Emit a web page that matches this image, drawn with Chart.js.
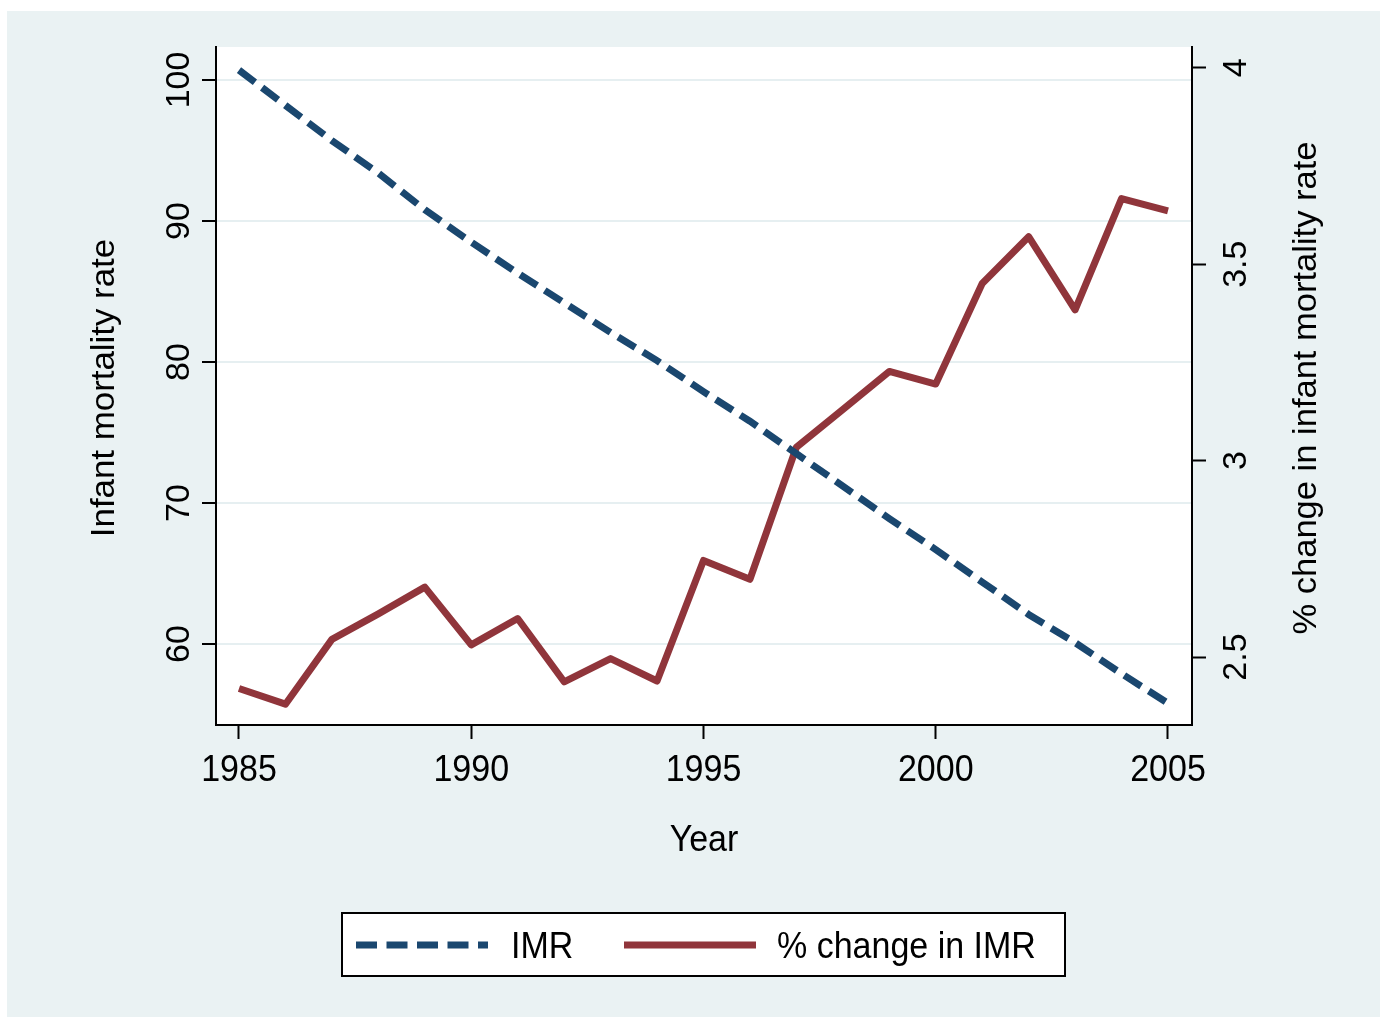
<!DOCTYPE html>
<html>
<head>
<meta charset="utf-8">
<script src="https://cdn.jsdelivr.net/npm/chart.js@4.4.1/dist/chart.umd.min.js"></script>
<style>
  html, body { margin: 0; padding: 0; background: #fff; }
  #wrap { position: absolute; left: 0; top: 0; width: 1380px; height: 1019px; }
</style>
</head>
<body>
<div id="wrap"><canvas id="myChart" width="1380" height="1019"></canvas></div>
<script>
const years = [1985, 1986, 1987, 1988, 1989, 1990, 1991, 1992, 1993, 1994, 1995,
  1996, 1997, 1998, 1999, 2000, 2001, 2002, 2003, 2004, 2005];

// infant mortality rate (left axis)
const imr = [100.7, 98.2, 95.7, 93.4, 90.8, 88.5, 86.3, 84.2, 82.1, 80.1, 77.9,
  75.8, 73.5, 71.2, 68.9, 66.7, 64.4, 62.1, 60.1, 57.9, 55.8];

// % change in IMR (right axis)
const pctChange = [2.42, 2.38, 2.545, 2.61, 2.678, 2.531, 2.598, 2.437, 2.496, 2.439, 2.746,
  2.698, 3.034, 3.13, 3.227, 3.195, 3.451, 3.57, 3.384, 3.667, 3.636];

const xTicks = [1985, 1990, 1995, 2000, 2005];
const leftTicks = [60, 70, 80, 90, 100];
const rightTicks = [2.5, 3, 3.5, 4];

const legendLabels = ['IMR', '% change in IMR'];

const navy = '#1a476f';
const maroon = '#90353b';
const bg = '#eaf2f3';
const font = '34px "Liberation Sans", Arial, sans-serif';

// backgrounds: outer panel and white plot region
const backdrop = {
  id: 'backdrop',
  beforeDraw(chart) {
    const ctx = chart.ctx;
    const a = chart.chartArea;
    ctx.save();
    ctx.fillStyle = bg;
    ctx.fillRect(7, 11, 1373, 1006);
    ctx.fillStyle = '#fff';
    ctx.fillRect(a.left, a.top, a.right - a.left, a.bottom - a.top);
    ctx.restore();
  }
};

// tick labels, axis titles and the boxed legend
const texts = {
  id: 'texts',
  afterDraw(chart) {
    const ctx = chart.ctx;
    const sx = chart.scales.x, sy = chart.scales.y, sy2 = chart.scales.y2;
    ctx.save();
    ctx.fillStyle = '#000';
    ctx.font = font;
    ctx.textBaseline = 'alphabetic';

    // horizontal text is a bit taller in the original
    const horiz = (txt, x, y, align) => {
      ctx.save();
      ctx.textAlign = align;
      ctx.translate(x, y);
      ctx.scale(1, 1.07);
      ctx.fillText(txt, 0, 0);
      ctx.restore();
    };
    xTicks.forEach(v => horiz(String(v), sx.getPixelForValue(v), 781, 'center'));
    horiz('Year', (chart.chartArea.left + chart.chartArea.right) / 2, 851, 'center');

    const vert = (txt, x, y, stretch) => {
      ctx.save();
      ctx.textAlign = 'center';
      ctx.translate(x, y);
      ctx.rotate(-Math.PI / 2);
      ctx.scale(stretch, 1);
      ctx.fillText(txt, 0, 0);
      ctx.restore();
    };
    leftTicks.forEach(v => vert(String(v), 189, sy.getPixelForValue(v), 1));
    rightTicks.forEach(v => vert(String(v), 1246, sy2.getPixelForValue(v), 1));
    vert('Infant mortality rate', 114, 388, 1.025);
    vert('% change in infant mortality rate', 1316, 388, 1.015);

    // legend
    ctx.fillStyle = '#fff';
    ctx.fillRect(342, 913, 723, 63);
    ctx.strokeStyle = '#000';
    ctx.lineWidth = 2;
    ctx.strokeRect(342, 913, 723, 63);

    ctx.lineWidth = 7;
    ctx.lineCap = 'butt';
    ctx.strokeStyle = navy;
    ctx.setLineDash([21, 9.5]);
    ctx.beginPath(); ctx.moveTo(356, 945); ctx.lineTo(488, 945); ctx.stroke();
    ctx.setLineDash([]);
    ctx.strokeStyle = maroon;
    ctx.beginPath(); ctx.moveTo(624, 945); ctx.lineTo(756, 945); ctx.stroke();

    ctx.fillStyle = '#000';
    horiz(legendLabels[0], 511, 958, 'left');
    horiz(legendLabels[1], 777, 958, 'left');
    ctx.restore();
  }
};

const data = {
  datasets: [{
    label: legendLabels[0],
    data: years.map((y, i) => ({x: y, y: imr[i]})),
    borderColor: navy,
    borderWidth: 7,
    borderDash: [20, 9],
    borderCapStyle: 'butt',
    pointRadius: 0,
    yAxisID: 'y'
  }, {
    label: legendLabels[1],
    data: years.map((y, i) => ({x: y, y: pctChange[i]})),
    borderColor: maroon,
    borderWidth: 7,
    borderJoinStyle: 'round',
    pointRadius: 0,
    yAxisID: 'y2'
  }]
};

const config = {
  type: 'line',
  data: data,
  options: {
    responsive: false,
    animation: false,
    layout: { padding: { top: 47, left: 0, right: 0, bottom: 0 } },
    plugins: {
      legend: { display: false },
      tooltip: { enabled: false }
    },
    scales: {
      x: {
        type: 'linear',
        min: 1984.505,
        max: 2005.517,
        afterFit: s => { s.height = 294; },
        grid: { drawOnChartArea: false, tickLength: 14, tickColor: '#000', tickWidth: 2 },
        border: { color: '#000', width: 2 },
        ticks: { stepSize: 5, includeBounds: false, display: false }
      },
      y: {
        position: 'left',
        min: 54.26,
        max: 102.34,
        afterFit: s => { s.width = 216; },
        grid: { color: '#e6eff1', lineWidth: 2, tickLength: 14, tickColor: '#000', tickWidth: 2 },
        border: { color: '#000', width: 2 },
        ticks: { stepSize: 10, includeBounds: false, display: false }
      },
      y2: {
        position: 'right',
        min: 2.327,
        max: 4.053,
        afterFit: s => { s.width = 188; },
        grid: { drawOnChartArea: false, tickLength: 14, tickColor: '#000', tickWidth: 2 },
        border: { color: '#000', width: 2 },
        ticks: { stepSize: 0.5, includeBounds: false, display: false }
      }
    }
  },
  plugins: [backdrop, texts]
};

const myChart = new Chart(
  document.getElementById('myChart'),
  config
);
</script>
</body>
</html>
